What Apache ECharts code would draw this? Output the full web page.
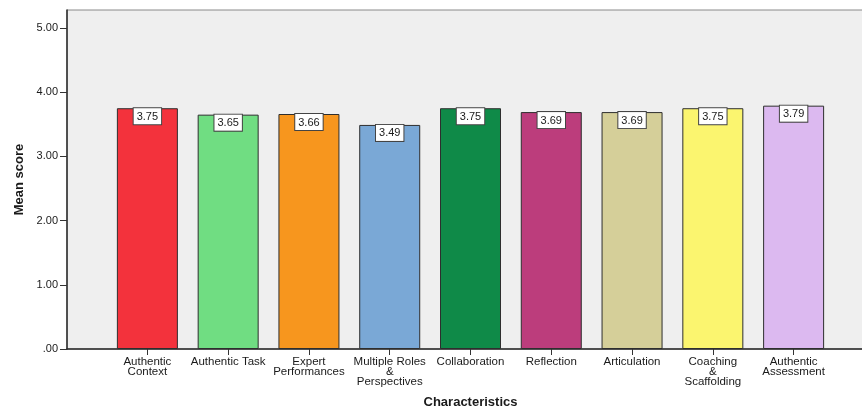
<!DOCTYPE html>
<html>
<head>
<meta charset="utf-8">
<script src="https://cdn.jsdelivr.net/npm/echarts@6/dist/echarts.min.js"></script>
<style>
  html, body { margin: 0; padding: 0; background: #ffffff; }
  #chart { width: 862px; height: 408px; }
</style>
</head>
<body>
<div id="chart"></div>
<script>
// Mean score per characteristic
const categories = [
  'Authentic\nContext',
  'Authentic Task',
  'Expert\nPerformances',
  'Multiple Roles\n&\nPerspectives',
  'Collaboration',
  'Reflection',
  'Articulation',
  'Coaching\n&\nScaffolding',
  'Authentic\nAssessment'
];
const meanScores = [3.75, 3.65, 3.66, 3.49, 3.75, 3.69, 3.69, 3.75, 3.79];
const barColors = [
  '#f3323c', '#70dd82', '#f7961e', '#7aa8d6', '#0f8a48',
  '#bc3d7c', '#d5cf99', '#fbf56f', '#dcb9f0'
];
const yTicks = [0, 1, 2, 3, 4, 5];

const FONT = '"Liberation Sans", Arial, sans-serif';
const Y_MAX = 5.28;

const chart = echarts.init(document.getElementById('chart'), null, { renderer: 'canvas' });

chart.setOption({
  backgroundColor: '#ffffff',
  animation: false,
  grid: [
    // plot frame with the value scale
    {
      left: 67, right: -3, top: 10, bottom: 59,
      outerBoundsMode: 'none', containLabel: false,
      show: true, backgroundColor: '#efefef',
      borderColor: '#8a8a8a', borderWidth: 1
    },
    // bar area, inset inside the frame
    {
      left: 107, right: 28, top: 10, bottom: 59,
      outerBoundsMode: 'none', containLabel: false
    }
  ],
  xAxis: [
    {
      gridIndex: 0, type: 'value', min: 0, max: 1,
      axisLine: { show: true, lineStyle: { color: '#2a2a2a', width: 1.5 } },
      axisTick: { show: false }, axisLabel: { show: false }, splitLine: { show: false }
    },
    {
      gridIndex: 1, type: 'category', data: categories,
      name: 'Characteristics', nameLocation: 'middle', nameGap: 47,
      nameTextStyle: { fontFamily: FONT, fontSize: 13, fontWeight: 'bold', color: '#1a1a1a' },
      axisLine: { show: false },
      axisTick: { show: true, alignWithLabel: true, length: 6, lineStyle: { color: '#333' } },
      axisLabel: {
        interval: 0, margin: 8, fontFamily: FONT, fontSize: 11.5,
        lineHeight: 10, color: '#1a1a1a'
      }
    }
  ],
  yAxis: [
    {
      gridIndex: 0, type: 'value', min: 0, max: Y_MAX,
      name: 'Mean score', nameLocation: 'middle', nameGap: 40,
      nameTextStyle: { fontFamily: FONT, fontSize: 13, fontWeight: 'bold', color: '#1a1a1a' },
      axisLine: { show: true, lineStyle: { color: '#2a2a2a', width: 1.5 } },
      axisTick: { show: true, length: 7, customValues: yTicks, lineStyle: { color: '#333' } },
      axisLabel: {
        customValues: yTicks, margin: 9, fontFamily: FONT, fontSize: 11, color: '#1a1a1a',
        formatter: v => (v === 0 ? '.00' : v.toFixed(2))
      },
      splitLine: { show: false }
    },
    {
      gridIndex: 1, type: 'value', min: 0, max: Y_MAX, show: false,
      splitLine: { show: false }
    }
  ],
  series: [
    {
      type: 'bar',
      xAxisIndex: 1, yAxisIndex: 1,
      barWidth: 61,
      data: meanScores.map((v, i) => ({
        value: v,
        itemStyle: { color: barColors[i] }
      })),
      itemStyle: { borderColor: '#2e2e2e', borderWidth: 1 },
      label: {
        show: true, position: 'insideTop', distance: 0,
        formatter: p => p.value.toFixed(2),
        fontFamily: FONT, fontSize: 11, color: '#1a1a1a',
        backgroundColor: '#ffffff', borderColor: '#444444', borderWidth: 1,
        padding: [3, 3, 2, 3]
      }
    }
  ]
});
</script>
</body>
</html>
